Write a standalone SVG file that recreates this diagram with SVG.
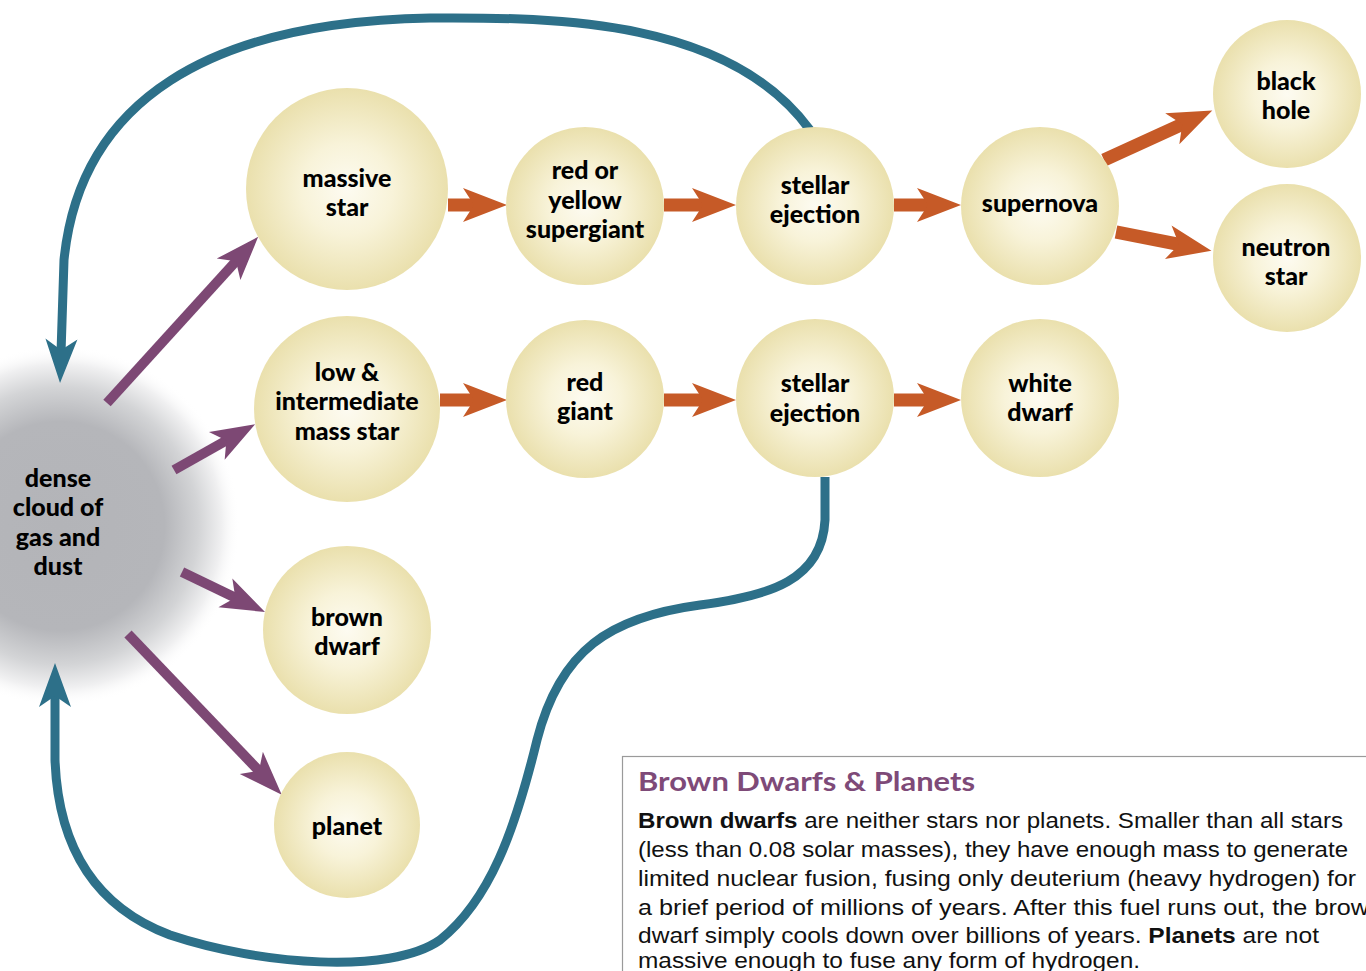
<svg xmlns="http://www.w3.org/2000/svg" width="1366" height="971" viewBox="0 0 1366 971">
<defs>
<radialGradient id="star" cx="50%" cy="50%" r="50%">
<stop offset="0" stop-color="#fdfbf1"/>
<stop offset="0.45" stop-color="#f8f3d9"/>
<stop offset="1" stop-color="#eae0ad"/>
</radialGradient>
<radialGradient id="cloud" cx="50%" cy="50%" r="50%">
<stop offset="0" stop-color="#b3b4b8"/>
<stop offset="0.58" stop-color="#b5b6ba"/>
<stop offset="0.77" stop-color="#d3d4d6"/>
<stop offset="0.9" stop-color="#f0f0f1"/>
<stop offset="1" stop-color="#ffffff" stop-opacity="0"/>
</radialGradient>
<marker id="ho" markerUnits="userSpaceOnUse" markerWidth="100" markerHeight="100" refX="0" refY="0" orient="auto" overflow="visible">
<path d="M30,0 L-14,-17 L-3,0 L-14,17 Z" fill="#c65a27"/>
</marker>
<marker id="hp" markerUnits="userSpaceOnUse" markerWidth="100" markerHeight="100" refX="0" refY="0" orient="auto" overflow="visible">
<path d="M30,0 L-14,-16 L-3,0 L-14,16 Z" fill="#7d4874"/>
</marker>
<marker id="ht" markerUnits="userSpaceOnUse" markerWidth="100" markerHeight="100" refX="0" refY="0" orient="auto" overflow="visible">
<path d="M30,0 L-14,-16 L-3,0 L-14,16 Z" fill="#2d7089"/>
</marker>
</defs>
<style>
.n{fill:url(#star)}
.lb{font-family:Lato,"Open Sans","Liberation Sans",sans-serif;font-weight:900;font-size:25px;fill:#000;text-anchor:middle}
.o{stroke:#c65a27;stroke-width:13;fill:none;marker-end:url(#ho)}
.p{stroke:#7d4874;stroke-width:10;fill:none;marker-end:url(#hp)}
.t{stroke:#2d7089;stroke-width:9;fill:none;marker-end:url(#ht)}
.body{font-family:"Liberation Sans",Arial,sans-serif;font-size:22px;fill:#111}
.b{font-weight:700}
.title{font-family:Lato,"Liberation Sans",sans-serif;font-weight:700;font-size:27px;fill:#7e4a78}
</style>
<rect width="1366" height="971" fill="#fff"/>

<g id="cloud-node">
<circle cx="60" cy="526" r="180" fill="url(#cloud)"/>
<text class="lb"><tspan x="58" y="487">dense</tspan><tspan x="58" y="516">cloud of</tspan><tspan x="58" y="546">gas and</tspan><tspan x="58" y="575">dust</tspan></text>
</g>

<g id="connectors">
<path class="t" d="M810,130 C730,20 560,17 430,18 C210,22 80,100 64,260 L61,353"/>
<path class="t" d="M825,477 L825,520 C822,580 770,596 700,605 C610,617 560,650 537,740 C515,830 490,900 440,940 C390,975 260,965 170,935 C90,905 58,840 55,760 L55,693"/>
<line class="o" x1="448" y1="205" x2="477" y2="205"/>
<line class="o" x1="664" y1="205" x2="706" y2="205"/>
<line class="o" x1="894" y1="205" x2="931" y2="205"/>
<line class="o" x1="1104" y1="160" x2="1185" y2="123"/>
<line class="o" x1="1116" y1="232" x2="1182" y2="245"/>
<line class="o" x1="440" y1="400" x2="477" y2="400"/>
<line class="o" x1="664" y1="400" x2="706" y2="400"/>
<line class="o" x1="894" y1="400" x2="931" y2="400"/>
<line class="p" x1="107" y1="403" x2="238" y2="259"/>
<line class="p" x1="174" y1="470" x2="229" y2="439"/>
<line class="p" x1="182" y1="572" x2="238" y2="599"/>
<line class="p" x1="128" y1="634" x2="261" y2="773"/>
</g>

<g id="massive-star"><circle class="n" cx="347" cy="189" r="101"/><text class="lb"><tspan x="347" y="187">massive</tspan><tspan x="347" y="216">star</tspan></text></g>
<g id="supergiant"><circle class="n" cx="585" cy="206" r="79"/><text class="lb"><tspan x="585" y="179">red or</tspan><tspan x="585" y="209">yellow</tspan><tspan x="585" y="238">supergiant</tspan></text></g>
<g id="stellar-ejection-1"><circle class="n" cx="815" cy="206" r="79"/><text class="lb"><tspan x="815" y="194">stellar</tspan><tspan x="815" y="223">ejection</tspan></text></g>
<g id="supernova"><circle class="n" cx="1040" cy="206" r="79"/><text class="lb" x="1040" y="212">supernova</text></g>
<g id="black-hole"><circle class="n" cx="1287" cy="94" r="74"/><text class="lb"><tspan x="1286" y="90">black</tspan><tspan x="1286" y="119">hole</tspan></text></g>
<g id="neutron-star"><circle class="n" cx="1287" cy="258" r="74"/><text class="lb"><tspan x="1286" y="256">neutron</tspan><tspan x="1286" y="285">star</tspan></text></g>
<g id="low-mass-star"><circle class="n" cx="347" cy="409" r="93"/><text class="lb"><tspan x="347" y="381">low &amp;</tspan><tspan x="347" y="410">intermediate</tspan><tspan x="347" y="440">mass star</tspan></text></g>
<g id="red-giant"><circle class="n" cx="585" cy="399" r="79"/><text class="lb"><tspan x="585" y="391">red</tspan><tspan x="585" y="420">giant</tspan></text></g>
<g id="stellar-ejection-2"><circle class="n" cx="815" cy="398" r="79"/><text class="lb"><tspan x="815" y="392">stellar</tspan><tspan x="815" y="422">ejection</tspan></text></g>
<g id="white-dwarf"><circle class="n" cx="1040" cy="398" r="79"/><text class="lb"><tspan x="1040" y="392">white</tspan><tspan x="1040" y="421">dwarf</tspan></text></g>
<g id="brown-dwarf"><circle class="n" cx="347" cy="630" r="84"/><text class="lb"><tspan x="347" y="626">brown</tspan><tspan x="347" y="655">dwarf</tspan></text></g>
<g id="planet"><circle class="n" cx="347" cy="825" r="73"/><text class="lb" x="347" y="835">planet</text></g>

<g id="info-box">
<rect x="622.5" y="756.5" width="800" height="300" fill="#fff" stroke="#9a9a9a" stroke-width="1.2"/>
<text class="title" x="638" y="791" textLength="337" lengthAdjust="spacingAndGlyphs">Brown Dwarfs &amp; Planets</text>
<text class="body" x="638" y="828" textLength="705" lengthAdjust="spacingAndGlyphs"><tspan class="b">Brown dwarfs</tspan> are neither stars nor planets. Smaller than all stars</text>
<text class="body" x="638" y="857" textLength="710" lengthAdjust="spacingAndGlyphs">(less than 0.08 solar masses), they have enough mass to generate</text>
<text class="body" x="638" y="886" textLength="718" lengthAdjust="spacingAndGlyphs">limited nuclear fusion, fusing only deuterium (heavy hydrogen) for</text>
<text class="body" x="638" y="915" textLength="745" lengthAdjust="spacingAndGlyphs">a brief period of millions of years. After this fuel runs out, the brown</text>
<text class="body" x="638" y="943" textLength="681" lengthAdjust="spacingAndGlyphs">dwarf simply cools down over billions of years. <tspan class="b">Planets</tspan> are not</text>
<text class="body" x="638" y="968" textLength="502" lengthAdjust="spacingAndGlyphs">massive enough to fuse any form of hydrogen.</text>
</g>
</svg>
